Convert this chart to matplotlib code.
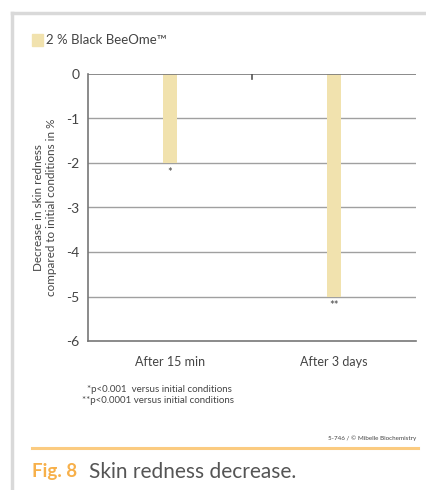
import matplotlib
matplotlib.use("Agg")
import matplotlib.pyplot as plt
from matplotlib.lines import Line2D
from matplotlib.patches import Rectangle

categories = ["After 15 min", "After 3 days"]
values = [-2.0, -5.0]
stars = ["*", "**"]
yticks = [0, -1, -2, -3, -4, -5, -6]
series_name = "2 % Black BeeOme\u2122"

bar_color = "#F1E2AE"
text_color = "#444444"

plt.rcParams['font.family'] = ['Lato', 'DejaVu Sans']

W, H = 427, 490
fig = plt.figure(figsize=(W / 100, H / 100), dpi=100)

# gray frame lines (page border)
fig.add_artist(Line2D([12 / W, 12 / W], [0, 1 - 13 / H], color="#d9d9d9", lw=2.5, transform=fig.transFigure))
fig.add_artist(Line2D([12 / W, 1], [1 - 13.5 / H, 1 - 13.5 / H], color="#d9d9d9", lw=2.5, transform=fig.transFigure))

ax = fig.add_axes([88 / W, 1 - 341 / H, 328 / W, 267 / H])
x = list(range(len(categories)))
for yv in yticks:
    if yv not in (0, -6):
        ax.axhline(yv, color="#a0a0a0", lw=1.0, zorder=1)
ax.axhline(0, color="#777777", lw=1.2, zorder=3)
ax.bar(x, values, width=0.085, color=bar_color, zorder=2)
for xi, v, s in zip(x, values, stars):
    ax.text(xi, v - 0.08, s, ha="center", va="top", fontsize=8, color=text_color)

ax.set_xlim(-0.5, 1.5)
ax.set_ylim(-6, 0)
ax.set_yticks(yticks)
ax.set_yticklabels([str(t) for t in yticks], fontsize=10, color=text_color)
ax.tick_params(axis='y', length=0, pad=6)
ax.set_xticks(x)
ax.set_xticklabels(categories, fontsize=9, color=text_color)
ax.tick_params(axis='x', length=0, pad=11)
# small boundary tick between categories at the zero line
ax.plot([0.5, 0.5], [0, -0.12], color="#555555", lw=1.2, zorder=4)

for sp in ["top", "right"]:
    ax.spines[sp].set_visible(False)
ax.spines["left"].set_color("#777777")
ax.spines["bottom"].set_color("#777777")
ax.spines["left"].set_linewidth(1.2)
ax.spines["bottom"].set_linewidth(1.2)

ax.set_ylabel("Decrease in skin redness\ncompared to initial conditions in %",
              fontsize=8.4, color=text_color, labelpad=7, linespacing=1.15)

# legend
fig.add_artist(Rectangle((32 / W, 1 - 46 / H), 11 / W, 12 / H, color=bar_color, transform=fig.transFigure))
fig.text(46 / W, 1 - 40 / H, series_name, fontsize=9.5, color=text_color, va="center", ha="left")

# footnotes
fig.text(87 / W, 1 - 389 / H, "*p<0.001  versus initial conditions", fontsize=7, color=text_color, va="center", ha="left")
fig.text(82 / W, 1 - 400 / H, "**p<0.0001 versus initial conditions", fontsize=7, color=text_color, va="center", ha="left")
fig.text(416 / W, 1 - 438 / H, "5-746 / \u00a9 Mibelle Biochemistry", fontsize=4.5, color=text_color, va="center", ha="right")

# orange rule and caption
fig.add_artist(Line2D([32 / W, 418 / W], [1 - 447.5 / H, 1 - 447.5 / H], color="#FBCB80", lw=2.2, transform=fig.transFigure))
fig.text(32 / W, 1 - 471 / H, "Fig. 8", fontsize=13.5, color="#F7B04A", fontweight="bold",
         va="center", ha="left")
fig.text(89 / W, 1 - 472 / H, "Skin redness decrease.", fontsize=15, color="#555555", va="center", ha="left")

fig.savefig("out.png", dpi=100)
